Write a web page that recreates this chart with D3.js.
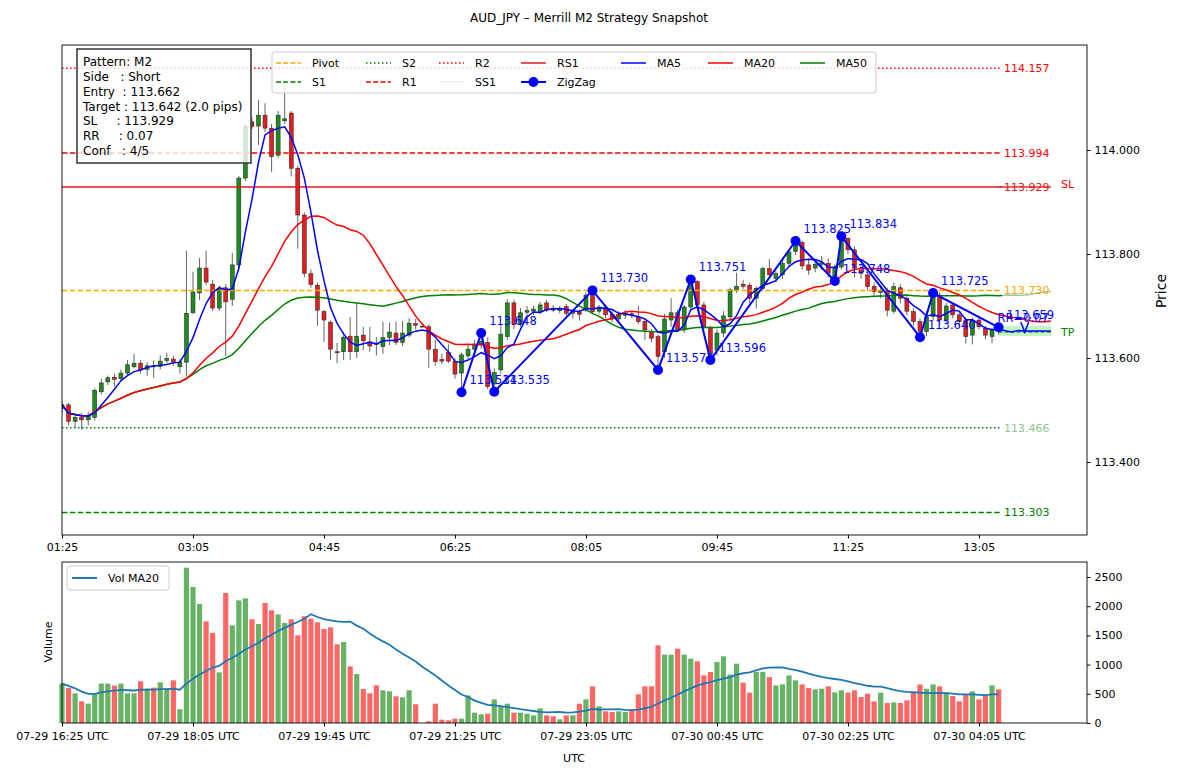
<!DOCTYPE html>
<html>
<head>
<meta charset="utf-8">
<script src="https://cdn.jsdelivr.net/npm/d3@7"></script>
<style>
  body { margin: 0; background: #fff; }
  svg { font-family: "DejaVu Sans", sans-serif; }
</style>
</head>
<body>
<div id="chart"></div>
<script>
// 1. Data (5 min bars, index 0 = 01:25)

const opens = [
  113.503,113.510,113.478,113.486,113.481,113.486,113.535,113.554,113.563,113.560,
  113.571,113.583,113.590,113.578,113.585,113.584,113.595,113.598,113.583,113.592,
  113.687,113.725,113.773,113.742,113.696,113.735,113.713,113.779,113.946,114.054,
  114.046,114.067,114.042,113.990,114.056,114.071,113.965,113.875,113.762,113.740,
  113.689,113.669,113.612,113.612,113.642,113.612,113.644,113.631,113.628,113.622,
  113.639,113.648,113.630,113.644,113.666,113.661,113.660,113.617,113.597,113.611,
  113.593,113.571,113.604,113.617,113.625,113.630,113.550,113.577,113.641,113.706,
  113.664,113.688,113.690,113.689,113.706,113.696,113.691,113.699,113.686,113.688,
  113.692,113.727,113.690,113.698,113.684,113.675,113.682,113.685,113.679,113.670,
  113.651,113.641,113.612,113.673,113.687,113.654,113.698,113.747,113.702,113.659,
  113.615,113.648,113.679,113.731,113.742,113.740,113.715,113.734,113.772,113.753,
  113.760,113.782,113.805,113.822,113.779,113.773,113.780,113.782,113.752,113.775,
  113.830,113.808,113.769,113.760,113.738,113.726,113.730,113.690,113.735,113.715,
  113.689,113.670,113.651,113.680,113.721,113.673,113.702,113.683,113.673,113.644,
  113.673,113.657,113.641,113.657]

const highs = [
  113.518,113.514,113.492,113.494,113.496,113.542,113.560,113.566,113.570,113.578,
  113.596,113.608,113.596,113.592,113.596,113.605,113.610,113.604,113.598,113.806,
  113.766,113.792,113.806,113.750,113.740,113.742,113.802,113.950,114.050,114.062,
  114.096,114.090,114.050,114.075,114.122,114.075,113.970,113.880,113.770,113.745,
  113.693,113.672,113.629,113.650,113.679,113.705,113.660,113.660,113.640,113.670,
  113.668,113.670,113.671,113.676,113.675,113.663,113.665,113.635,113.608,113.626,
  113.600,113.610,113.625,113.635,113.648,113.640,113.580,113.663,113.713,113.712,
  113.696,113.700,113.700,113.708,113.712,113.702,113.700,113.704,113.694,113.693,
  113.726,113.730,113.702,113.703,113.690,113.690,113.692,113.690,113.700,113.676,
  113.656,113.645,113.685,113.715,113.693,113.702,113.751,113.750,113.708,113.662,
  113.655,113.690,113.735,113.764,113.750,113.745,113.738,113.776,113.790,113.768,
  113.790,113.808,113.825,113.826,113.790,113.790,113.796,113.792,113.780,113.834,
  113.832,113.815,113.778,113.765,113.745,113.740,113.735,113.745,113.742,113.720,
  113.695,113.676,113.690,113.725,113.726,113.706,113.706,113.690,113.678,113.678,
  113.680,113.662,113.658,113.659]

const lows = [
  113.495,113.470,113.466,113.462,113.470,113.480,113.530,113.548,113.545,113.555,
  113.566,113.580,113.570,113.565,113.562,113.578,113.590,113.585,113.570,113.564,
  113.684,113.711,113.740,113.690,113.690,113.603,113.700,113.770,113.940,114.040,
  114.010,114.035,113.958,113.985,114.050,113.949,113.810,113.755,113.735,113.662,
  113.631,113.596,113.590,113.596,113.596,113.600,113.615,113.612,113.605,113.608,
  113.625,113.625,113.623,113.640,113.655,113.659,113.581,113.585,113.588,113.590,
  113.560,113.534,113.598,113.610,113.618,113.540,113.535,113.570,113.635,113.655,
  113.660,113.680,113.683,113.684,113.688,113.688,113.686,113.680,113.676,113.672,
  113.688,113.684,113.684,113.676,113.668,113.670,113.675,113.676,113.665,113.635,
  113.630,113.577,113.600,113.660,113.650,113.648,113.690,113.695,113.655,113.596,
  113.605,113.640,113.672,113.725,113.733,113.705,113.695,113.728,113.755,113.745,
  113.752,113.776,113.798,113.770,113.760,113.765,113.770,113.755,113.748,113.770,
  113.800,113.755,113.752,113.730,113.720,113.715,113.680,113.685,113.705,113.682,
  113.662,113.640,113.642,113.672,113.665,113.668,113.676,113.660,113.628,113.626,
  113.655,113.636,113.628,113.645]

const closes = [
  113.510,113.478,113.486,113.481,113.488,113.538,113.552,113.562,113.559,113.571,
  113.587,113.590,113.577,113.585,113.583,113.594,113.599,113.592,113.592,113.686,
  113.727,113.773,113.746,113.696,113.734,113.708,113.779,113.946,114.045,114.045,
  114.067,114.042,113.987,114.067,114.060,113.965,113.875,113.763,113.741,113.692,
  113.673,113.617,113.610,113.640,113.612,113.642,113.633,113.623,113.626,113.639,
  113.650,113.630,113.648,113.667,113.663,113.661,113.617,113.593,113.594,113.594,
  113.569,113.606,113.617,113.627,113.632,113.545,113.572,113.646,113.706,113.664,
  113.687,113.691,113.694,113.702,113.692,113.692,113.695,113.686,113.690,113.684,
  113.721,113.689,113.698,113.683,113.675,113.684,113.686,113.682,113.670,113.654,
  113.638,113.603,113.675,113.687,113.654,113.698,113.750,113.702,113.660,113.609,
  113.648,113.681,113.731,113.738,113.738,113.715,113.734,113.772,113.760,113.762,
  113.782,113.804,113.817,113.777,113.769,113.780,113.783,113.763,113.775,113.827,
  113.808,113.773,113.763,113.737,113.728,113.729,113.692,113.737,113.715,113.690,
  113.670,113.651,113.679,113.725,113.673,113.700,113.683,113.670,113.641,113.673,
  113.660,113.644,113.654,113.652]

const volumes = [
  675,599,508,372,332,508,675,675,640,675,
  508,508,714,589,606,697,589,731,235,2660,
  2329,2038,1741,1541,868,2226,1673,2101,2135,1776,
  1695,2055,1930,1861,1713,1776,1502,1827,1787,1724,
  1610,1639,1348,1387,971,839,582,508,646,560,
  543,457,440,560,320,0,30,331,57,45,
  74,74,473,177,148,160,405,285,331,177,
  177,160,131,251,131,114,63,131,131,331,
  405,628,285,200,188,200,188,217,491,628,
  628,1330,1170,1170,1273,1170,1102,1056,816,873,
  1045,1142,830,1016,690,519,873,873,787,644,
  661,816,730,661,599,576,587,627,525,559,
  519,559,445,502,371,519,342,353,342,388,
  519,661,587,661,627,519,462,371,491,542,
  405,473,644,576]

// zigzag swing points (bar index, price)
const zzIndex = [61,64,66,81,91,96,99,112,118,119,131,133,143]
const zzPrice = [113.534,113.648,113.535,113.730,113.577,113.751,113.596,113.825,113.748,113.834,113.640,113.725,113.659]

// pivot levels
const levelNames = ["R2","R1","RS1","Pivot","S2","S1"]
const levelValues = [114.157,113.994,113.929,113.730,113.466,113.303]

// trade setup
const entryPrice = 113.662
const targetPrice = 113.642
const tpLinePrice = 113.650
const infoLines = [
  "Pattern: M2",
  "Side   : Short",
  "Entry  : 113.662",
  "Target : 113.642 (2.0 pips)",
  "SL     : 113.929",
  "RR     : 0.07",
  "Conf   : 4/5"
]

// ticks
const tickBars = [0,20,40,60,80,100,120,140]
const priceTimeLabels = ["01:25","03:05","04:45","06:25","08:05","09:45","11:25","13:05"]
const volTimeLabels = ["07-29 16:25 UTC","07-29 18:05 UTC","07-29 19:45 UTC","07-29 21:25 UTC",
                       "07-29 23:05 UTC","07-30 00:45 UTC","07-30 02:25 UTC","07-30 04:05 UTC"]
const priceTicks = [113.4,113.6,113.8,114.0]
const volTicks = [0,500,1000,1500,2000,2500]

async function drawMerrillChart() {

  // 2. Chart dimensions
  const dimensions = {
    width: 1178,
    height: 777,
    left: 62,
    right: 1087,
    priceTop: 45,
    priceBottom: 535,
    volTop: 562,
    volBottom: 723,
  }
  const lastBar = closes.length - 1   // 143
  const projBar = lastBar + 8         // lines run a bit past the last candle

  // 3. Canvas
  const wrapper = d3.select("#chart")
    .append("svg")
      .attr("width", dimensions.width)
      .attr("height", dimensions.height)

  wrapper.append("defs").append("clipPath").attr("id", "priceClip")
    .append("rect")
      .attr("x", dimensions.left).attr("y", dimensions.priceTop)
      .attr("width", dimensions.right - dimensions.left)
      .attr("height", dimensions.priceBottom - dimensions.priceTop)

  // 4. Scales
  const xScale = d3.scaleLinear()
    .domain([0, 156.5])
    .range([dimensions.left, dimensions.right])

  const yScale = d3.scaleLinear()
    .domain([113.2596, 114.2019])
    .range([dimensions.priceBottom, dimensions.priceTop])

  const volScale = d3.scaleLinear()
    .domain([0, 2757])
    .range([dimensions.volBottom, dimensions.volTop])

  const rollingMean = (values, n, len) => {
    const out = []
    for (let i = 0; i < len; i++) {
      const win = values.slice(Math.max(0, i - n + 1), i + 1)
      out.push(win.length ? d3.mean(win) : out[i - 1])
    }
    return out
  }
  const ma5 = rollingMean(closes, 5, projBar + 1)
  const ma20 = rollingMean(closes, 20, projBar + 1)
  const ma50 = rollingMean(closes, 50, projBar + 1)
  const volMa20 = rollingMean(volumes, 20, volumes.length)

  const bars = closes.map((c, i) => ({ i, o: opens[i], h: highs[i], l: lows[i], c, v: volumes[i], up: c >= opens[i] }))

  // 5. Price panel
  const price = wrapper.append("g").attr("clip-path", "url(#priceClip)")

  // candles
  const candle = price.append("g").selectAll("g").data(bars).join("g")
  candle.append("line")
    .attr("x1", d => xScale(d.i)).attr("x2", d => xScale(d.i))
    .attr("y1", d => yScale(d.h)).attr("y2", d => yScale(d.l))
    .attr("stroke", "#222").attr("stroke-width", 0.7)
  candle.append("rect")
    .attr("x", d => xScale(d.i) - 2)
    .attr("width", 4)
    .attr("y", d => yScale(Math.max(d.o, d.c)))
    .attr("height", d => Math.max(0.8, Math.abs(yScale(d.o) - yScale(d.c))))
    .attr("fill", d => d.up ? "#1f8a1f" : "#e02020")
    .attr("stroke", "#222").attr("stroke-width", 0.5)

  // horizontal levels
  const levelStyle = {
    R2: { color: "red", dash: "1.5,2.5" },
    R1: { color: "red", dash: "5.5,2.4" },
    RS1: { color: "#e31a1c", dash: null },
    Pivot: { color: "orange", dash: "5.5,2.4" },
    S2: { color: "green", dash: "1.5,2.5" },
    S1: { color: "green", dash: "5.5,2.4" },
  }
  levelNames.forEach((name, k) => {
    const st = levelStyle[name]
    price.append("line")
      .attr("x1", xScale(0))
      .attr("x2", name === "RS1" ? xScale(projBar) : xScale(lastBar + 0.2))
      .attr("y1", yScale(levelValues[k])).attr("y2", yScale(levelValues[k]))
      .attr("stroke", st.color).attr("stroke-width", 1.5)
      .attr("stroke-dasharray", st.dash)
  })

  // target zone
  price.append("rect")
    .attr("x", xScale(lastBar)).attr("width", xScale(projBar) - xScale(lastBar))
    .attr("y", yScale(entryPrice)).attr("height", yScale(targetPrice) - yScale(entryPrice))
    .attr("fill", "#90ee90").attr("opacity", 0.55)
  price.append("line")
    .attr("x1", xScale(lastBar)).attr("x2", xScale(projBar))
    .attr("y1", yScale(tpLinePrice)).attr("y2", yScale(tpLinePrice))
    .attr("stroke", "darkgreen").attr("stroke-width", 1.2).attr("stroke-dasharray", "4,2")

  // moving averages
  const lineGenerator = series => d3.line()
    .x((d, i) => xScale(i))
    .y(d => yScale(d))(series)
  price.append("path").attr("d", lineGenerator(ma50)).attr("fill", "none").attr("stroke", "green").attr("stroke-width", 1.5)
  price.append("path").attr("d", lineGenerator(ma20)).attr("fill", "none").attr("stroke", "red").attr("stroke-width", 1.5)
  price.append("path").attr("d", lineGenerator(ma5)).attr("fill", "none").attr("stroke", "blue").attr("stroke-width", 1.5)

  // zigzag
  const zz = zzIndex.map((idx, k) => ({ idx, p: zzPrice[k] }))
  price.append("path")
    .attr("d", d3.line().x(d => xScale(d.idx)).y(d => yScale(d.p))(zz))
    .attr("fill", "none").attr("stroke", "blue").attr("stroke-width", 2)
  price.selectAll(".zz").data(zz).join("circle")
    .attr("cx", d => xScale(d.idx)).attr("cy", d => yScale(d.p)).attr("r", 5)
    .attr("fill", "blue")
  price.selectAll(".zzLabel").data(zz).join("text")
    .attr("x", d => xScale(d.idx) + 8).attr("y", d => yScale(d.p) - 8)
    .attr("font-size", 11.5).attr("fill", "blue")
    .text(d => d.p.toFixed(3))

  // entry -> target arrow head and RR text
  const arrowX = xScale((lastBar + projBar) / 2)
  const tipY = yScale(tpLinePrice)
  price.append("path")
    .attr("d", `M${arrowX - 4},${tipY - 10}L${arrowX},${tipY}L${arrowX + 4},${tipY - 10}`)
    .attr("fill", "none").attr("stroke", "blue").attr("stroke-width", 1.5)
  price.append("text")
    .attr("x", xScale(lastBar) - 1).attr("y", yScale(entryPrice) - 4)
    .attr("font-size", 11.5).attr("fill", "blue")
    .text("RR=0.07")

  // right-hand level labels
  levelNames.forEach((name, k) => {
    const yy = yScale(levelValues[k])
    price.append("rect")
      .attr("x", 1002).attr("y", yy - 8).attr("width", 52).attr("height", 15)
      .attr("fill", "white").attr("opacity", 0.6)
    price.append("text")
      .attr("x", 1004).attr("y", yy + 4)
      .attr("font-size", 11)
      .attr("fill", levelStyle[name].color)
      .attr("opacity", name === "S2" ? 0.45 : 1)
      .text(levelValues[k].toFixed(3))
  })
  price.append("line")
    .attr("x1", xScale(lastBar)).attr("x2", xScale(projBar))
    .attr("y1", yScale(113.929)).attr("y2", yScale(113.929))
    .attr("stroke", "#e31a1c").attr("stroke-width", 1.5).attr("opacity", 0.7)
  price.append("text").attr("x", 1061).attr("y", yScale(113.929) + 1)
    .attr("font-size", 11).attr("fill", "red").text("SL")
  price.append("text").attr("x", 1061).attr("y", yScale(tpLinePrice) + 4)
    .attr("font-size", 11).attr("fill", "green").text("TP")

  // info box
  price.append("rect")
    .attr("x", 77).attr("y", 49).attr("width", 174).attr("height", 114)
    .attr("fill", "white").attr("fill-opacity", 0.8)
    .attr("stroke", "#333").attr("stroke-width", 1.5)
  price.append("g").selectAll("text").data(infoLines).join("text")
    .attr("x", 83).attr("y", (d, i) => 66 + i * 14.85)
    .attr("font-size", 12).attr("xml:space", "preserve").style("white-space", "pre")
    .text(d => d)

  // legend (7 columns, filled column by column)
  const legendItems = [
    { name: "Pivot", color: "orange", dash: "5,2.2", col: 0, row: 0 },
    { name: "S1", color: "green", dash: "5,2.2", col: 0, row: 1 },
    { name: "S2", color: "green", dash: "1.5,2.5", col: 1, row: 0 },
    { name: "R1", color: "red", dash: "5,2.2", col: 1, row: 1 },
    { name: "R2", color: "red", dash: "1.5,2.5", col: 2, row: 0 },
    { name: "SS1", color: "#eeeeee", dash: null, col: 2, row: 1 },
    { name: "RS1", color: "#e31a1c", dash: null, col: 3, row: 0 },
    { name: "ZigZag", color: "blue", dash: null, col: 3, row: 1, marker: true },
    { name: "MA5", color: "blue", dash: null, col: 4, row: 0 },
    { name: "MA20", color: "red", dash: null, col: 5, row: 0 },
    { name: "MA50", color: "green", dash: null, col: 6, row: 0 },
  ]
  const colX = [276, 366, 439, 521, 621, 708, 800]
  const legend = wrapper.append("g")
  legend.append("rect")
    .attr("x", 272).attr("y", 52).attr("width", 604).attr("height", 41).attr("rx", 3)
    .attr("fill", "white").attr("fill-opacity", 0.8)
    .attr("stroke", "#cccccc")
  legendItems.forEach(it => {
    const lx = colX[it.col], ly = 63 + it.row * 19
    legend.append("line")
      .attr("x1", lx).attr("x2", lx + 25).attr("y1", ly).attr("y2", ly)
      .attr("stroke", it.color).attr("stroke-width", it.marker ? 2 : 1.5)
      .attr("stroke-dasharray", it.dash)
    if (it.marker) legend.append("circle").attr("cx", lx + 12.5).attr("cy", ly).attr("r", 5).attr("fill", "blue")
    legend.append("text").attr("x", lx + 36).attr("y", ly + 4)
      .attr("font-size", 11).text(it.name)
  })

  // 6. Volume panel
  const vol = wrapper.append("g")
  vol.selectAll("rect").data(bars).join("rect")
    .attr("x", d => xScale(d.i) - 2.6)
    .attr("width", 5.2)
    .attr("y", d => volScale(d.v))
    .attr("height", d => volScale(0) - volScale(d.v))
    .attr("fill", d => d.up ? "green" : "red")
    .attr("fill-opacity", 0.6)
  vol.append("path")
    .attr("d", d3.line().x((d, i) => xScale(i)).y(d => volScale(d))(volMa20))
    .attr("fill", "none").attr("stroke", "#1f77b4").attr("stroke-width", 1.8)

  vol.append("rect")
    .attr("x", 67).attr("y", 566).attr("width", 102).attr("height", 24).attr("rx", 3)
    .attr("fill", "white").attr("fill-opacity", 0.8).attr("stroke", "#cccccc")
  vol.append("line").attr("x1", 72).attr("x2", 97).attr("y1", 578).attr("y2", 578)
    .attr("stroke", "#1f77b4").attr("stroke-width", 2)
  vol.append("text").attr("x", 108).attr("y", 582).attr("font-size", 11).text("Vol MA20")

  // 7. Axes and frames
  const styleAxis = g => {
    g.select(".domain").remove()
    g.selectAll("text").attr("font-family", "DejaVu Sans").attr("font-size", 11).attr("fill", "#000")
    g.selectAll("line").attr("stroke", "#000")
  }

  wrapper.append("g")
    .attr("transform", `translate(${dimensions.right},0)`)
    .call(d3.axisRight(yScale).tickValues(priceTicks).tickFormat(d3.format(".3f")).tickSize(3.5).tickPadding(4))
    .call(styleAxis)

  wrapper.append("g")
    .attr("transform", `translate(0,${dimensions.priceBottom})`)
    .call(d3.axisBottom(xScale).tickValues(tickBars).tickFormat((d, i) => priceTimeLabels[i]).tickSize(3.5).tickPadding(5))
    .call(styleAxis)

  wrapper.append("g")
    .attr("transform", `translate(${dimensions.right},0)`)
    .call(d3.axisRight(volScale).tickValues(volTicks).tickFormat(d3.format("d")).tickSize(3.5).tickPadding(4))
    .call(styleAxis)

  wrapper.append("g")
    .attr("transform", `translate(0,${dimensions.volBottom})`)
    .call(d3.axisBottom(xScale).tickValues(tickBars).tickFormat((d, i) => volTimeLabels[i]).tickSize(3.5).tickPadding(6))
    .call(styleAxis)

  wrapper.append("rect")
    .attr("x", dimensions.left).attr("y", dimensions.priceTop)
    .attr("width", dimensions.right - dimensions.left)
    .attr("height", dimensions.priceBottom - dimensions.priceTop)
    .attr("fill", "none").attr("stroke", "#000").attr("stroke-width", 0.9)
  wrapper.append("rect")
    .attr("x", dimensions.left).attr("y", dimensions.volTop)
    .attr("width", dimensions.right - dimensions.left)
    .attr("height", dimensions.volBottom - dimensions.volTop)
    .attr("fill", "none").attr("stroke", "#000").attr("stroke-width", 0.9)

  // 8. Titles and labels
  wrapper.append("text")
    .attr("x", 589).attr("y", 22).attr("text-anchor", "middle")
    .attr("font-size", 12).text("AUD_JPY – Merrill M2 Strategy Snapshot")

  wrapper.append("text")
    .attr("transform", "translate(1166,291) rotate(-90)")
    .attr("text-anchor", "middle").attr("font-size", 14).text("Price")

  wrapper.append("text")
    .attr("transform", "translate(52,642) rotate(-90)")
    .attr("text-anchor", "middle").attr("font-size", 11).text("Volume")

  wrapper.append("text")
    .attr("x", 574).attr("y", 762).attr("text-anchor", "middle")
    .attr("font-size", 11).text("UTC")
}

drawMerrillChart();
</script>
</body>
</html>
